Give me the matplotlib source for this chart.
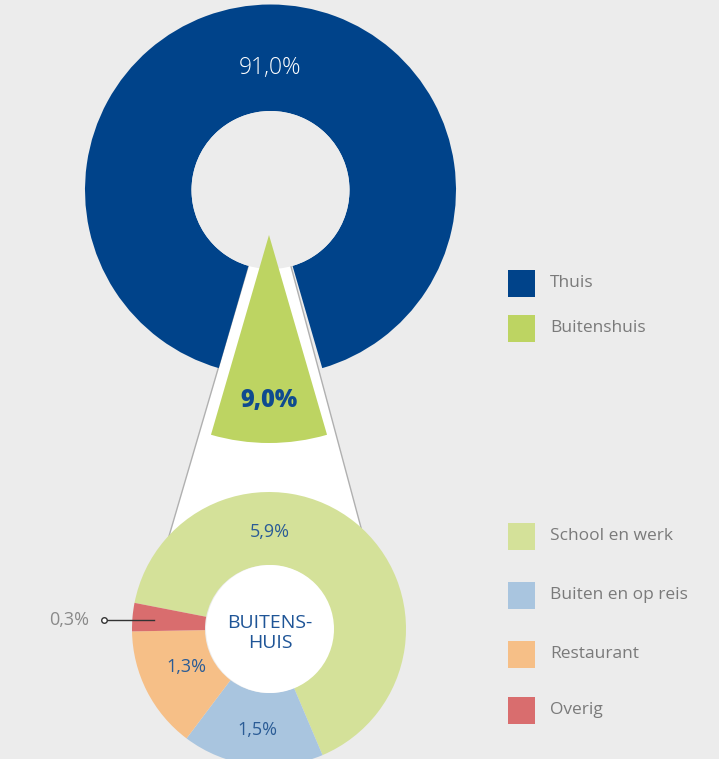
import matplotlib.pyplot as plt
from matplotlib.patches import Wedge, Circle, Rectangle, Polygon

# data
main_labels = ['Thuis', 'Buitenshuis']
main_values = [91.0, 9.0]
main_colors = ['#00438a', '#bdd462']

sub_labels = ['School en werk', 'Buiten en op reis', 'Restaurant', 'Overig']
sub_values = [5.9, 1.5, 1.3, 0.3]
sub_colors = ['#d4e199', '#a9c5df', '#f6bf87', '#d96d6e']

BG = '#ececec'
W, H = 719, 759

plt.rcParams['font.family'] = ['Open Sans', 'DejaVu Sans']


def fmt(v):
    return ('%.1f%%' % v).replace('.', ',')


fig = plt.figure(figsize=(W / 100, H / 100), dpi=100, facecolor=BG)
ax = fig.add_axes([0, 0, 1, 1])
ax.set_facecolor(BG)

# top donut geometry (y axis points up)
cx, cy = 270.5, H - 190
r_out, r_in = 185.5, 79
half = main_values[1] / sum(main_values) * 360 / 2

# bottom donut geometry
bx, by = 269, H - 629
br_out, br_in = 137, 64

# white funnel between the two charts
left_end = (162, H - 560)
right_end = (367, H - 550)
ax.add_patch(Polygon([(cx, cy), left_end, right_end], closed=True,
                     facecolor='white', edgecolor='none', zorder=1))
ax.plot([cx, left_end[0]], [cy, left_end[1]], color='#b0b0b0', lw=1, zorder=1.5)
ax.plot([cx, right_end[0]], [cy, right_end[1]], color='#b0b0b0', lw=1, zorder=1.5)

# blue ring with a gap for the pulled-out slice
ax.add_patch(Wedge((cx, cy), r_out, 270 + half, 270 - half + 360,
                   width=r_out - r_in, facecolor=main_colors[0],
                   edgecolor='none', zorder=2))
ax.add_patch(Circle((cx, cy), r_in, facecolor=BG, edgecolor='none', zorder=3))

# pulled-out slice
ax.add_patch(Wedge((269, H - 235), 208, 270 - half, 270 + half,
                   facecolor=main_colors[1], edgecolor='none', zorder=4))

ax.text(cx, H - 68, fmt(main_values[0]), color='white', fontsize=16.5,
        fontweight='light', ha='center', va='center', zorder=6)
ax.text(269, H - 400, fmt(main_values[1]), color='#0f4b8f', fontsize=17,
        fontweight='heavy', ha='center', va='center', zorder=6)

# breakdown donut
wedges, _ = ax.pie(sub_values, colors=sub_colors, startangle=169,
                   counterclock=False, center=(bx, by), radius=br_out,
                   wedgeprops=dict(width=br_out - br_in, edgecolor='none'))
for w in wedges:
    w.set_zorder(5)
ax.add_patch(Circle((bx + 1, by), br_in, facecolor='white', edgecolor='none', zorder=5.5))

lab_color = '#2b5c96'
lab_size = 13
ax.text(270, H - 532, fmt(sub_values[0]), color=lab_color, fontsize=lab_size,
        ha='center', va='center', zorder=6)
ax.text(257, H - 730, fmt(sub_values[1]), color=lab_color, fontsize=lab_size,
        ha='center', va='center', zorder=6)
ax.text(186, H - 667, fmt(sub_values[2]), color=lab_color, fontsize=lab_size,
        ha='center', va='center', zorder=6)
ax.text(69, H - 620, fmt(sub_values[3]), color='#8a8a8a', fontsize=lab_size,
        ha='center', va='center', zorder=6)
ax.plot([104, 154], [H - 620, H - 620], color='#333333', lw=1, zorder=6)
ax.plot([104], [H - 620], marker='o', ms=4, mfc='white', mec='#333333',
        mew=1, zorder=7)

ax.text(270, H - 633, 'BUITENS-\nHUIS', color='#1f5597', fontsize=14,
        ha='center', va='center', linespacing=1.15, zorder=6)

# legends
legend_rows = list(zip(main_labels, main_colors, [283, 328])) + \
    list(zip(sub_labels, sub_colors, [536, 595, 654, 710]))
for name, col, yc in legend_rows:
    ax.add_patch(Rectangle((508, H - yc - 13.5), 27, 27, facecolor=col,
                           edgecolor='none'))
    ax.text(550, H - yc, name, color='#7a7a7a', fontsize=12.5,
            ha='left', va='center')

ax.set_xlim(0, W)
ax.set_ylim(0, H)
ax.set_aspect('equal')
ax.axis('off')

fig.savefig('out.png', dpi=100, facecolor=BG)
